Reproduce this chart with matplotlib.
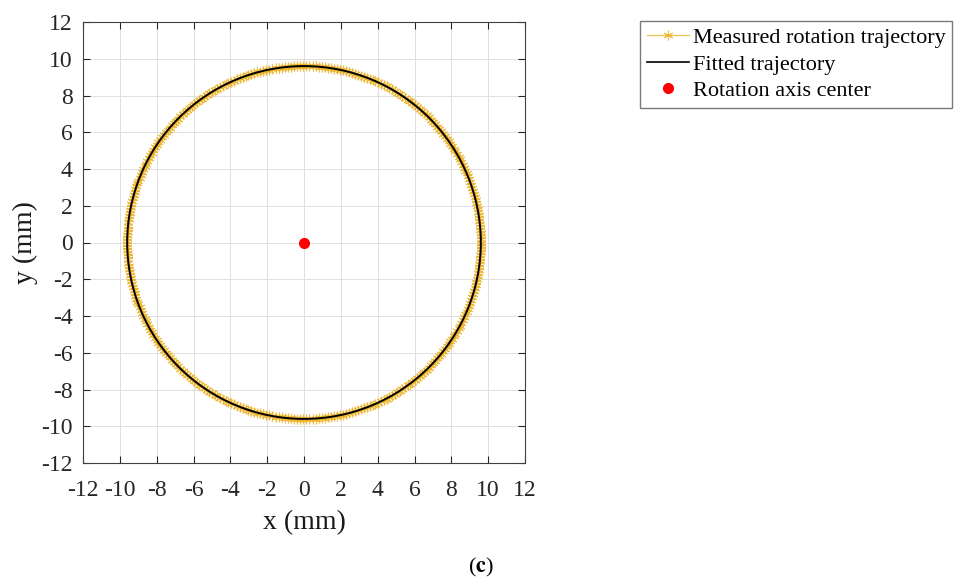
import numpy as np
import matplotlib
matplotlib.use("Agg")
import matplotlib.pyplot as plt
from matplotlib.patches import Circle

plt.rcParams['font.family'] = ['Liberation Serif', 'DejaVu Serif']
plt.rcParams['axes.unicode_minus'] = False
plt.rcParams['mathtext.fontset'] = 'stix'

# fitted circle parameters (mm)
center_x = 0.0
center_y = 0.0
radius = 9.6
n_samples = 360  # measured points around one rotation

ticks = [-12, -10, -8, -6, -4, -2, 0, 2, 4, 6, 8, 10, 12]

theta = np.linspace(0, 2 * np.pi, n_samples)
meas_x = center_x + radius * np.cos(theta)
meas_y = center_y + radius * np.sin(theta)

fig = plt.figure(figsize=(9.55, 5.77), dpi=100)
ax = fig.add_axes([83 / 955, 1 - 463 / 577, 442 / 955, 441 / 577])

orange = (0.929, 0.694, 0.125)
ax.plot(meas_x, meas_y, color=orange, lw=0.9, marker=(6, 2, 0), ms=7, mew=0.8,
        alpha=0.8, label='Measured rotation trajectory', zorder=2)
fit = Circle((center_x, center_y), radius, fill=False, color='black', lw=1.4,
             zorder=3)
ax.add_patch(fit)
ax.plot([], [], color='black', lw=1.2, label='Fitted trajectory')
ax.plot([center_x], [center_y], 'o', color='red', ms=7, ls='none',
        label='Rotation axis center', zorder=4)

ax.set_xlim(-12, 12)
ax.set_ylim(-12, 12)
ax.set_xticks(ticks)
ax.set_yticks(ticks)
ax.tick_params(direction='in', top=True, right=True, length=5, width=0.8,
               labelsize=17, colors='0.15', labelcolor='0.15')
ax.tick_params(axis='x', pad=12)
ax.tick_params(axis='y', pad=7.5)
ax.grid(True, color='0.87', lw=0.7)
ax.set_axisbelow(True)
for s in ax.spines.values():
    s.set_color('0.25')
    s.set_linewidth(0.8)

ax.set_xlabel('x (mm)', fontsize=20, color='0.1', labelpad=7)
ax.set_ylabel('y (mm)', fontsize=20, color='0.1', labelpad=2)

fig.legend(loc='upper left', bbox_to_anchor=(640 / 955, 1 - 21 / 577),
           fontsize=16, frameon=True, fancybox=False, edgecolor='0.35',
           handlelength=1.9, handletextpad=0.18, labelspacing=0.26,
           borderpad=0.3, borderaxespad=0, markerscale=1.0)

fig.text(481 / 955, 1 - 567 / 577, r'($\mathbf{c}$)', ha='center',
         va='center', fontsize=16)

fig.savefig('out.png', dpi=100)
